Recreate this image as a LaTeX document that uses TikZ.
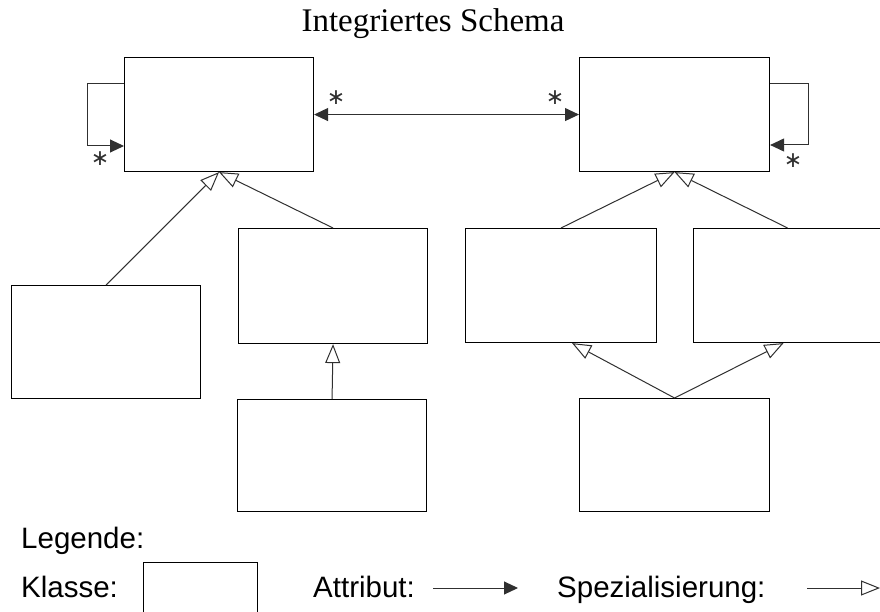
\documentclass[tikz,border=0pt]{standalone}
\usepackage{fontspec}
\setmainfont{Liberation Serif}
\setsansfont{Liberation Sans}
\newfontfamily\starfont{DejaVu Sans}
\usetikzlibrary{arrows.meta}
\definecolor{linegray}{HTML}{303030}
\begin{document}
\begin{tikzpicture}[x=1pt,y=-1pt,
  cls/.style={draw=black, line width=1.1pt, inner sep=0pt, anchor=north west,
    minimum width=189pt, minimum height=114pt},
  attr/.style={draw=linegray, line width=1pt, -{Triangle[length=14pt,width=13pt]}},
  attrboth/.style={draw=linegray, line width=1pt,
    {Triangle[length=14pt,width=13pt]}-{Triangle[length=14pt,width=13pt]}},
  spec/.style={draw=linegray, line width=1pt,
    -{Triangle[open,length=19pt,width=15pt,fill=white]}},
  star/.style={inner sep=0pt, text=linegray, font=\starfont\fontsize{22}{22}\selectfont},
  legtext/.style={inner sep=0pt, anchor=base west, font=\sffamily\fontsize{29.5}{31}\selectfont}]

\useasboundingbox (0,0) rectangle (880,612);
\fill[white] (0,0) rectangle (880,612);
\clip (0,0) rectangle (880,612);

% title
\node[anchor=base, inner sep=0pt, font=\fontsize{33}{33}\selectfont] (title) at (433,32) {Integriertes Schema};

% classes
\node[cls] (A) at (124,57) {};
\node[cls, minimum width=190pt] (B) at (579,57) {};
\node[cls, minimum height=113pt] (C) at (11,285) {};
\node[cls, minimum height=115pt] (D) at (238,228) {};
\node[cls, minimum height=112pt] (E) at (237,399) {};
\node[cls, minimum width=191pt] (F) at (465,228) {};
\node[cls, minimum width=188pt] (G) at (693,228) {};
\node[cls, minimum width=190pt, minimum height=113pt] (H) at (579,398) {};

% self associations
\draw[attr] ([yshift=-27pt]A.north west) -- ++(-37,0) |- ([yshift=-89pt]A.north west);
\draw[attr] ([yshift=-27pt]B.north east) -- ++(38,0) |- ([yshift=-88pt]B.north east);
\node[star] (sA) at (100,159) {∗};
\node[star] (sB) at (793,161) {∗};

% association between the two upper classes
\draw[attrboth] (A.east) -- (B.west);
\node[star] (sA2) at (336,98) {∗};
\node[star] (sB2) at (555,98) {∗};

% specialisations
\draw[spec] (C.north) -- (A.south);
\draw[spec] (D.north) -- (A.south);
\draw[spec] (E.north) -- (D.south);
\draw[spec] (F.north) -- (B.south);
\draw[spec] (G.north) -- (B.south);
\draw[spec] (H.north) -- ([xshift=11pt]F.south);
\draw[spec] (H.north) -- ([xshift=-4pt]G.south);

% legend
\node[legtext] (leg) at (21,548) {Legende:};
\node[legtext] (lk) at (21,597) {Klasse:};
\node[cls, minimum width=114pt, minimum height=70pt] (K) at (143,562) {};
\node[legtext] (la) at (313,597) {Attribut:};
\coordinate (a1) at (433,588);
\coordinate (a2) at (518,588);
\draw[attr] (a1) -- (a2);
\node[legtext] (ls) at (557,597) {Spezialisierung:};
\coordinate (s1) at (807,588);
\coordinate (s2) at (880,588);
\draw[spec] (s1) -- (s2);
\end{tikzpicture}
\end{document}
